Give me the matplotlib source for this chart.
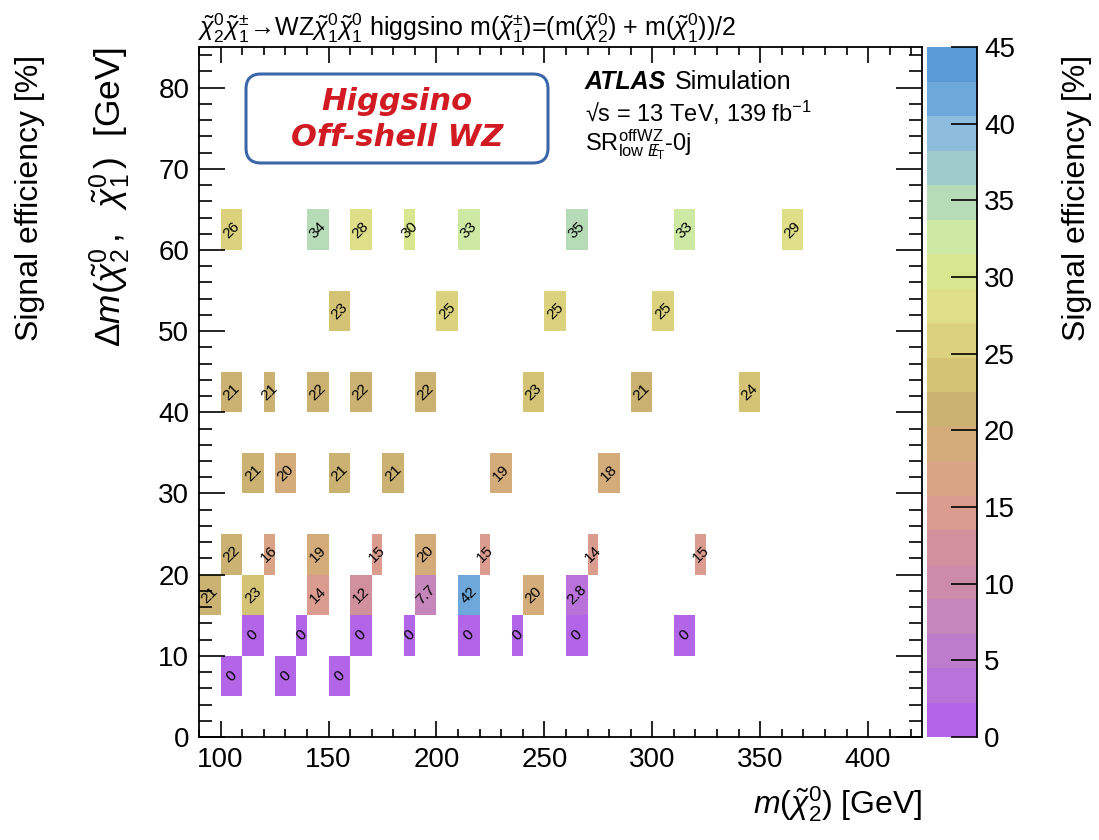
import matplotlib
matplotlib.use('Agg')
import matplotlib.pyplot as plt
import numpy as np
from matplotlib.colors import ListedColormap, Normalize
from matplotlib.patches import FancyBboxPatch
from matplotlib.ticker import MultipleLocator

# signal grid: m(chi2) bin edges, delta-m bin edges, efficiency [%]
x_lo = [100, 140, 160, 185, 210, 260, 310, 360,
        150, 200, 250, 300,
        100, 120, 140, 160, 190, 240, 290, 340,
        110, 125, 150, 175, 225, 275,
        100, 120, 140, 170, 190, 220, 270, 320,
        90, 110, 140, 160, 190, 210, 240, 260,
        110, 135, 160, 185, 210, 235, 260, 310,
        100, 125, 150]
x_hi = [110, 150, 170, 190, 220, 270, 320, 370,
        160, 210, 260, 310,
        110, 125, 150, 170, 200, 250, 300, 350,
        120, 135, 160, 185, 235, 285,
        110, 125, 150, 175, 200, 225, 275, 325,
        100, 120, 150, 170, 200, 220, 250, 270,
        120, 140, 170, 190, 220, 240, 270, 320,
        110, 135, 160]
y_lo = [60]*8 + [50]*4 + [40]*8 + [30]*6 + [20]*8 + [15]*8 + [10]*8 + [5]*3
y_hi = [65]*8 + [55]*4 + [45]*8 + [35]*6 + [25]*8 + [20]*8 + [15]*8 + [10]*3
eff = [26, 34, 28, 30, 33, 35, 33, 29,
       23, 25, 25, 25,
       21, 21, 22, 22, 22, 23, 21, 24,
       21, 20, 21, 21, 19, 18,
       22, 16, 19, 15, 20, 15, 14, 15,
       21, 23, 14, 12, 7.7, 42, 20, 2.8,
       0, 0, 0, 0, 0, 0, 0, 0,
       0, 0, 0]

palette = ['#b266e7', '#b872da', '#bd7ccc', '#c587bb', '#cb8ba9',
           '#d1919c', '#da9c8f', '#d9a485', '#d4ac7a', '#cbb272',
           '#d4c374', '#dcd27d', '#e0df89', '#d8e690', '#cde9a3',
           '#b5dbb7', '#a0cbcc', '#8dbcdc', '#6ea8da', '#5b9bd8']

plt.rcParams.update({'font.family': ['Liberation Sans', 'DejaVu Sans'],
                     'mathtext.fontset': 'custom',
                     'mathtext.rm': 'Liberation Sans',
                     'mathtext.it': 'Liberation Sans:italic',
                     'mathtext.bf': 'Liberation Sans:bold',
                     'axes.linewidth': 1.3})

cmap = ListedColormap(palette)
norm = Normalize(0, 45)

fig = plt.figure(figsize=(10.99, 8.4), dpi=100)
ax = fig.add_axes([0.1811, 0.1226, 0.6579, 0.8214])
cax = fig.add_axes([0.8435, 0.1226, 0.0455, 0.8214])

w = np.subtract(x_hi, x_lo)
h = np.subtract(y_hi, y_lo)
ax.bar(x_lo, h, width=w, bottom=y_lo, align='edge', color=cmap(norm(eff)), linewidth=0)
for xl, xh, yl, yh, v in zip(x_lo, x_hi, y_lo, y_hi, eff):
    ax.text((xl + xh) / 2, (yl + yh) / 2, '{:.2g}'.format(v), rotation=45,
            ha='center', va='center', fontsize=11)

ax.set_xlim(90, 425)
ax.set_ylim(0, 85)
ax.xaxis.set_major_locator(MultipleLocator(50))
ax.xaxis.set_minor_locator(MultipleLocator(10))
ax.yaxis.set_major_locator(MultipleLocator(10))
ax.yaxis.set_minor_locator(MultipleLocator(2))
ax.tick_params(which='both', direction='in', top=True, right=True, width=1.2, labelsize=20)
ax.tick_params(axis='x', which='major', length=11.5, pad=7)
ax.tick_params(axis='x', which='minor', length=5.8)
ax.tick_params(axis='y', which='major', length=18.7, pad=7)
ax.tick_params(axis='y', which='minor', length=9.4)
ax.set_xlabel(r'$m(\tilde{\chi}^{0}_{2})$ [GeV]', loc='right', fontsize=23, labelpad=8)
ax.set_ylabel(r'$\Delta m(\tilde{\chi}^{0}_{2}\,,\ \ \tilde{\chi}^{0}_{1}\,)$  [GeV]', loc='top',
              fontsize=25.5, labelpad=18)

sm = plt.cm.ScalarMappable(norm=norm, cmap=cmap)
cb = fig.colorbar(sm, cax=cax)
cb.outline.set_visible(False)
cb.set_ticks(range(0, 46, 5))
cb.minorticks_off()
cax.tick_params(direction='in', length=18.7, width=1.2, labelsize=20, pad=5)
cax.plot([1, 1], [0, 1], transform=cax.transAxes, color='black', lw=1.3, clip_on=False)

fig.text(1077 / 1099, 1 - 55 / 840, 'Signal efficiency [%]', rotation=90,
         ha='center', va='top', fontsize=23)
fig.text(30 / 1099, 1 - 55 / 840, 'Signal efficiency [%]', rotation=90,
         ha='center', va='top', fontsize=23)

fig.text(198 / 1099, 1 - 28 / 840,
         r'$\tilde{\chi}^{0}_{2}\tilde{\chi}^{\pm}_{1}\!\rightarrow\!$WZ$\tilde{\chi}^{0}_{1}\tilde{\chi}^{0}_{1}$'
         r' higgsino m($\tilde{\chi}^{\pm}_{1}$)=(m($\tilde{\chi}^{0}_{2}$) + m($\tilde{\chi}^{0}_{1}$))/2',
         ha='left', va='center', fontsize=18)

fig.text(585 / 1099, 1 - 82 / 840, 'ATLAS', fontweight='bold', style='italic',
         fontsize=18, va='center')
fig.text(675 / 1099, 1 - 82 / 840, 'Simulation', fontsize=18, va='center')
fig.text(585 / 1099, 1 - 113 / 840, '\u221as = 13 TeV, 139 fb$^{-1}$', fontsize=17, va='center')
fig.text(585 / 1099, 1 - 145 / 840,
         r'SR$^{\mathrm{offWZ}}_{\mathrm{low}\ E\!\!\!/_{\mathrm{T}}}$-0j', fontsize=17, va='center')

box = FancyBboxPatch((246 / 1099, 1 - 163 / 840), 302 / 1099, 89 / 840,
                     boxstyle='round,pad=0,rounding_size=0.0136', mutation_aspect=1.31,
                     transform=fig.transFigure, fc='white', ec='#3a67a9', lw=2.2, zorder=5)
fig.add_artist(box)
fig.text(397 / 1099, 1 - 101 / 840, 'Higgsino', family='DejaVu Sans', fontweight='bold',
         style='italic', color='#d11a22', fontsize=22, ha='center', va='center', zorder=6)
fig.text(397 / 1099, 1 - 138 / 840, 'Off-shell WZ', family='DejaVu Sans', fontweight='bold',
         style='italic', color='#d11a22', fontsize=22, ha='center', va='center', zorder=6)

fig.savefig('out.png', dpi=100)
